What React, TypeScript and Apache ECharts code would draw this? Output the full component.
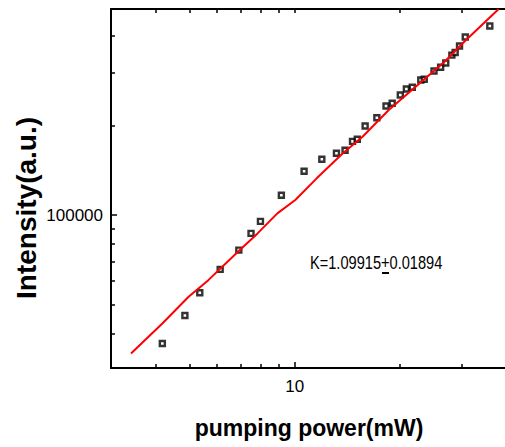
import React, { useEffect, useRef } from "react";
import * as echarts from "echarts";

// Measured data: pumping power (mW) vs intensity (a.u.)
const powerMW = [
  4.18, 4.85, 5.35, 6.12, 6.92, 7.5, 7.98, 9.16, 10.64, 11.96, 13.17, 13.94, 14.64, 15.11, 15.91, 17.19,
  18.26, 19.02, 20.06, 20.88, 21.71, 22.96, 23.49, 25.05, 26.17, 27.07, 28.18, 28.8, 29.64, 30.78, 36.19,
];
const intensity = [
  37110, 46070, 54860, 65730, 76300, 86810, 95250, 116500, 140200, 153800, 161100, 165000, 176700, 179500,
  198900, 212100, 232200, 237200, 252700, 264700, 268300, 283800, 285400, 304200, 313000, 323600, 343800,
  351100, 369000, 395700, 430800,
];

// Fitted curve (red)
const fitPower = [3.4, 4.18, 4.97, 5.66, 6.88, 7.83, 8.92, 10.04, 11.56, 13.74, 15.64, 18.59, 26.86, 30.58, 38.37];
const fitIntensity = [
  34350, 43310, 53190, 60500, 75300, 86800, 101300, 112300, 132800, 161100, 183100, 225100, 326900, 381500,
  491300,
];

const xMinorTicks = [4, 5, 6, 7, 8, 9, 20, 30];
const xMajorTicks = [10];
const yMinorTicks = [40000, 50000, 60000, 70000, 80000, 90000, 200000, 300000, 400000];
const yMajorTicks = [100000];
const xRange = [2.98, 40];
const yRange = [30700, 491000];

const xTitle = "pumping power(mW)";
const yTitle = "Intensity(a.u.)";
const fitLabel = "K=1.09915+0.01894";

const FONT = "'Liberation Sans', Arial, sans-serif";
const lg = (v: number) => Math.log10(v);
const fmtPow = (v: number) => String(Math.round(Math.pow(10, v)));

export default function App() {
  const ref = useRef<HTMLDivElement>(null);

  useEffect(() => {
    if (!ref.current) return;
    const chart = echarts.init(ref.current, undefined, { renderer: "svg" });

    const axisLine = { show: true, lineStyle: { color: "#000", width: 2 } };
    const tickStyle = { color: "#000", width: 1.5 };

    const xBase = {
      type: "value" as const,
      min: lg(xRange[0]),
      max: lg(xRange[1]),
      splitLine: { show: false },
    };
    const yBase = {
      type: "value" as const,
      min: lg(yRange[0]),
      max: lg(yRange[1]),
      splitLine: { show: false },
    };

    chart.setOption({
      animation: false,
      backgroundColor: "#fff",
      grid: { left: 111, top: 9, width: 400, height: 359 },
      xAxis: [
        {
          ...xBase,
          position: "bottom",
          axisLine,
          axisTick: {
            show: true,
            inside: true,
            length: 4,
            lineStyle: tickStyle,
            customValues: xMinorTicks.map(lg),
          },
          axisLabel: {
            show: true,
            customValues: xMajorTicks.map(lg),
            formatter: fmtPow,
            color: "#000",
            fontSize: 17,
            fontFamily: FONT,
            margin: 10,
          },
        },
        {
          ...xBase,
          position: "bottom",
          axisLine: { show: false },
          axisTick: {
            show: true,
            inside: true,
            length: 6,
            lineStyle: tickStyle,
            customValues: xMajorTicks.map(lg),
          },
          axisLabel: { show: false },
        },
        {
          ...xBase,
          position: "top",
          axisLine,
          axisTick: {
            show: true,
            inside: true,
            length: 4,
            lineStyle: tickStyle,
            customValues: [...xMinorTicks, ...xMajorTicks].map(lg),
          },
          axisLabel: { show: false },
        },
      ],
      yAxis: [
        {
          ...yBase,
          position: "left",
          axisLine,
          axisTick: {
            show: true,
            inside: true,
            length: 4,
            lineStyle: tickStyle,
            customValues: yMinorTicks.map(lg),
          },
          axisLabel: {
            show: true,
            customValues: yMajorTicks.map(lg),
            formatter: fmtPow,
            color: "#000",
            fontSize: 17,
            fontFamily: FONT,
            margin: 8,
          },
        },
        {
          ...yBase,
          position: "left",
          axisLine: { show: false },
          axisTick: {
            show: true,
            inside: true,
            length: 6,
            lineStyle: tickStyle,
            customValues: yMajorTicks.map(lg),
          },
          axisLabel: { show: false },
        },
      ],
      series: [
        {
          type: "scatter",
          xAxisIndex: 0,
          yAxisIndex: 0,
          data: powerMW.map((p, i) => [lg(p), lg(intensity[i])]),
          symbol: "rect",
          symbolSize: 5,
          itemStyle: { color: "#fff", borderColor: "#000", borderWidth: 2.4 },
        },
        {
          type: "line",
          xAxisIndex: 0,
          yAxisIndex: 0,
          data: fitPower.map((p, i) => [lg(p), lg(fitIntensity[i])]),
          showSymbol: false,
          symbol: "none",
          smooth: false,
          lineStyle: { color: "#ff0000", width: 2 },
        },
      ],
      graphic: [
        {
          type: "text",
          x: 26,
          y: 208,
          rotation: Math.PI / 2,
          style: {
            text: yTitle,
            fill: "#000",
            font: `bold 28px ${FONT}`,
            align: "center",
            verticalAlign: "middle",
          },
        },
        {
          type: "text",
          x: 309,
          y: 428,
          style: {
            text: xTitle,
            fill: "#000",
            font: `bold 23px ${FONT}`,
            align: "center",
            verticalAlign: "middle",
          },
        },
        {
          type: "text",
          x: 310,
          y: 263,
          scaleY: 1.3,
          style: {
            text: fitLabel,
            fill: "#000",
            font: `14.6px ${FONT}`,
            align: "left",
            verticalAlign: "middle",
          },
        },
        {
          type: "rect",
          shape: { x: 382, y: 272, width: 7, height: 2 },
          style: { fill: "#000" },
        },
      ],
    });

    return () => chart.dispose();
  }, []);

  return (
    <div
      ref={ref}
      style={{ position: "fixed", left: 0, top: 0, width: 505, height: 447, background: "#fff" }}
    />
  );
}
